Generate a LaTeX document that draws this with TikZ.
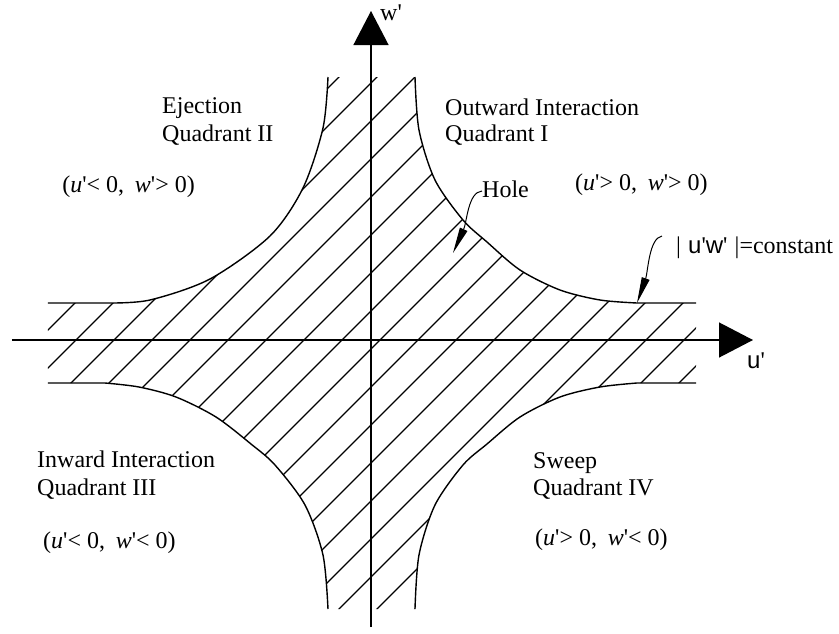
\documentclass[tikz,border=0pt]{standalone}
\usepackage{fontspec}
\setmainfont{Liberation Serif}
\newfontfamily\sansf{Liberation Sans}
\newfontfamily\serifraw{Liberation Serif}
\usetikzlibrary{arrows.meta}
\newcommand\pr{{\serifraw\upshape\char"0027\relax}}
\newcommand\qpair[4]{(\textit{u}\pr#1\hspace{0.25em}#2,\hspace{0.45em}\textit{w}\pr#3\hspace{0.25em}#4)}
\begin{document}
\begin{tikzpicture}[x=1pt,y=1pt,
  lbl/.style={inner sep=0pt, anchor=base west, font=\fontsize{24}{28}\selectfont},
  bnd/.style={line width=1.4pt},
  ax/.style={line width=1.3pt, -{Triangle[length=34pt,width=35pt]}},
  hatch/.style={line width=1.1pt},
  ptr/.style={line width=1pt, -{Triangle[length=26pt,width=8pt]}}]
\useasboundingbox (-371,-293) rectangle (468,340);
% hatching
\begin{scope}
\clip (-43,263) -- (44,263)
  -- plot[smooth] coordinates {(44,263) (48,210) (64,160) (92,120) (116,98) (149,70) (189,50) (229,40) (266,37)}
  -- (325,37) -- (325,-43)
  -- plot[smooth] coordinates {(266,-43) (229,-47) (189,-57) (149,-77) (116,-104) (92,-125) (64,-165) (48,-215) (44,-269)}
  -- plot[smooth] coordinates {(-43,-269) (-48,-215) (-66,-165) (-96,-125) (-120,-104) (-155,-77) (-195,-57) (-232,-47) (-266,-43)}
  -- (-323,-43) -- (-323,37)
  -- plot[smooth] coordinates {(-262,37) (-221,40) (-161,61) (-101,104) (-68,152) (-48,212) (-43,263)}
  -- cycle;
\foreach \n in {-18,...,18}
  \draw[hatch] (-420,{-420+29+38*\n}) -- (420,{420+29+38*\n});
\end{scope}
% boundary curves
\draw[bnd] plot[smooth] coordinates {(44,263) (48,210) (64,160) (92,120) (116,98) (149,70) (189,50) (229,40) (266,37)} -- (325,37);
\draw[bnd] plot[smooth] coordinates {(44,-269) (48,-215) (64,-165) (92,-125) (116,-104) (149,-77) (189,-57) (229,-47) (266,-43)} -- (325,-43);
\draw[bnd] plot[smooth] coordinates {(-43,-269) (-48,-215) (-66,-165) (-96,-125) (-120,-104) (-155,-77) (-195,-57) (-232,-47) (-266,-43)} -- (-323,-43);
\draw[bnd] plot[smooth] coordinates {(-43,263) (-48,212) (-68,152) (-101,104) (-161,61) (-221,40) (-262,37)} -- (-323,37);
% axes
\coordinate (hs) at (-359,0);
\coordinate (he) at (382,0);
\coordinate (vs) at (0,-287);
\coordinate (ve) at (0,329);
\draw[ax] (hs) -- (he);
\draw[ax] (vs) -- (ve);
\node[lbl] (wl) at (9,320) {w\pr};
\node[lbl, font=\fontsize{24}{28}\selectfont\sansf] (ul) at (376,-28) {u\pr};
% labels
\node[lbl] (ej) at (-209,227) {Ejection};
\node[lbl] (q2) at (-209,199) {Quadrant II};
\node[lbl, anchor=base east] (c2) at (-176,148) {\qpair{<}{0}{>}{0}};
\node[lbl] (ow) at (74,225) {Outward Interaction};
\node[lbl] (q1) at (74,199) {Quadrant I};
\node[lbl] (c1) at (204,150) {\qpair{>}{0}{>}{0}};
\node[lbl] (hole) at (111,143) {Hole};
\node[lbl] (const) at (305,87) {|\hspace{0.3em}{\sansf u\pr w\pr}\hspace{0.3em}|=constant};
\node[lbl] (iw) at (-334,-127) {Inward Interaction};
\node[lbl] (q3) at (-334,-155) {Quadrant III};
\node[lbl] (c3) at (-328,-208) {\qpair{<}{0}{<}{0}};
\node[lbl] (sw) at (162,-128) {Sweep};
\node[lbl] (q4) at (162,-155) {Quadrant IV};
\node[lbl] (c4) at (164,-205) {\qpair{>}{0}{<}{0}};
% pointers
\coordinate (hs1) at (111,149);
\coordinate (ht) at (82,87);
\draw[ptr] (hs1) .. controls (97,148) and (96,118) .. (ht);
\coordinate (cs1) at (291,104);
\coordinate (ct) at (266,37);
\draw[ptr] (cs1) .. controls (278,102) and (277,68) .. (ct);
\end{tikzpicture}
\end{document}
